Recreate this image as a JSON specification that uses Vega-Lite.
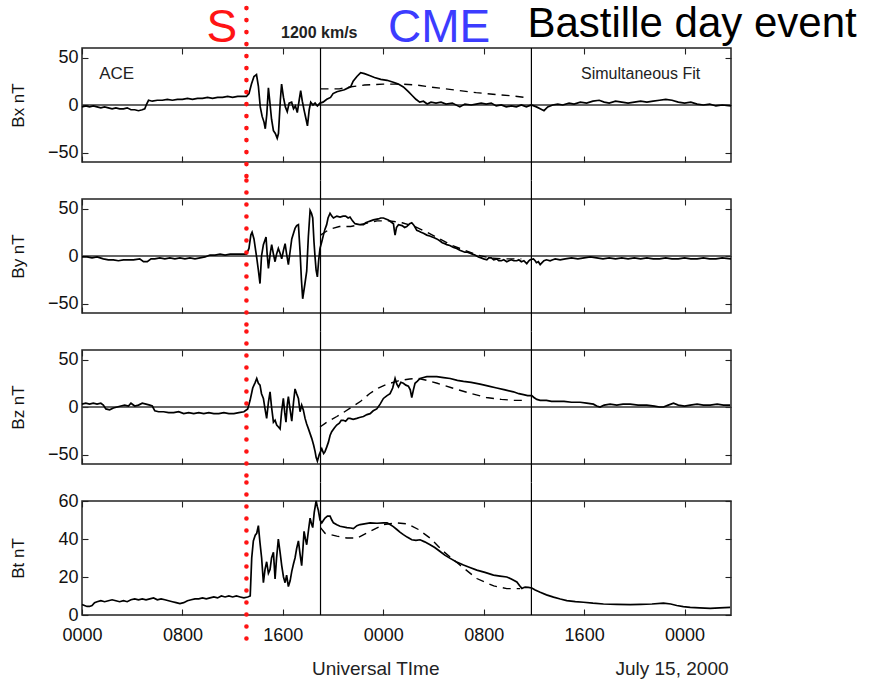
{
"$schema": "https://vega.github.io/schema/vega-lite/v6.json",
"padding": {"left": 8, "top": 1, "right": 5, "bottom": 5},
"background": "white",
"bounds": "flush",
"spacing": 37,
"config": {
 "view": {"stroke": "#222", "strokeWidth": 1.5},
 "font": "Liberation Sans",
 "text": {"font": "Liberation Sans"},
 "axis": {"grid": false, "domain": false, "tickColor": "#222", "tickWidth": 1.1, "tickSize": 6, "offset": -6, "labelFont": "Liberation Sans", "labelFontSize": 18, "labelColor": "#111", "labelPadding": 4, "labelFlush": false, "labelOverlap": false, "titleFont": "Liberation Sans", "titleFontSize": 17, "titleFontWeight": "normal", "titleColor": "#111", "titleX": -61},
 "axisBottom": {"labelPadding": 11}
},
"datasets": {
 "bx": [{"t":0,"v":-2},{"t":0.3,"v":-1},{"t":0.6,"v":-2},{"t":0.9,"v":-1},{"t":1.2,"v":-2},{"t":1.5,"v":-3},{"t":1.8,"v":-2},{"t":2.1,"v":-3},{"t":2.4,"v":-4},{"t":2.7,"v":-3},{"t":3.0,"v":-4},{"t":3.3,"v":-4},{"t":3.6,"v":-3},{"t":3.9,"v":-5},{"t":4.2,"v":-5},{"t":4.5,"v":-6},{"t":4.8,"v":-5},{"t":5.0,"v":-4},{"t":5.15,"v":1},{"t":5.3,"v":5},{"t":5.6,"v":4},{"t":6.0,"v":5},{"t":6.4,"v":5},{"t":6.8,"v":6},{"t":7.2,"v":5},{"t":7.6,"v":6},{"t":8.0,"v":6},{"t":8.4,"v":7},{"t":8.8,"v":6},{"t":9.2,"v":7},{"t":9.6,"v":7},{"t":10.0,"v":8},{"t":10.4,"v":7},{"t":10.8,"v":8},{"t":11.2,"v":8},{"t":11.6,"v":9},{"t":12.0,"v":8},{"t":12.4,"v":9},{"t":12.8,"v":9},{"t":13.1,"v":9},{"t":13.3,"v":12},{"t":13.5,"v":22},{"t":13.7,"v":30},{"t":13.9,"v":32},{"t":14.05,"v":20},{"t":14.2,"v":-2},{"t":14.35,"v":-12},{"t":14.5,"v":-18},{"t":14.6,"v":-25},{"t":14.72,"v":-10},{"t":14.85,"v":18},{"t":14.95,"v":5},{"t":15.1,"v":-15},{"t":15.25,"v":-27},{"t":15.4,"v":-30},{"t":15.55,"v":-35},{"t":15.65,"v":-30},{"t":15.8,"v":5},{"t":15.9,"v":22},{"t":16.05,"v":8},{"t":16.2,"v":-2},{"t":16.35,"v":-7},{"t":16.5,"v":2},{"t":16.7,"v":3},{"t":16.85,"v":-4},{"t":17.0,"v":-1},{"t":17.15,"v":-8},{"t":17.3,"v":5},{"t":17.42,"v":15},{"t":17.55,"v":4},{"t":17.7,"v":-6},{"t":17.85,"v":-15},{"t":17.96,"v":-22},{"t":18.1,"v":-5},{"t":18.22,"v":3},{"t":18.4,"v":0},{"t":18.57,"v":2},{"t":18.75,"v":-1},{"t":18.96,"v":2},{"t":19.2,"v":3},{"t":19.5,"v":6},{"t":19.8,"v":8},{"t":20.0,"v":12},{"t":20.3,"v":14},{"t":20.6,"v":15},{"t":20.9,"v":16},{"t":21.2,"v":18},{"t":21.4,"v":19},{"t":21.6,"v":25},{"t":21.9,"v":30},{"t":22.2,"v":34},{"t":22.5,"v":33},{"t":22.9,"v":31},{"t":23.3,"v":29},{"t":23.8,"v":27},{"t":24.3,"v":26},{"t":24.8,"v":24},{"t":25.2,"v":22},{"t":25.6,"v":19},{"t":26.0,"v":14},{"t":26.3,"v":10},{"t":26.6,"v":6},{"t":26.9,"v":3},{"t":27.2,"v":4},{"t":27.5,"v":1},{"t":27.8,"v":3},{"t":28.2,"v":2},{"t":28.6,"v":3},{"t":29.0,"v":1},{"t":29.5,"v":2},{"t":30.1,"v":-2},{"t":30.5,"v":1},{"t":31.0,"v":0},{"t":31.4,"v":1},{"t":31.8,"v":2},{"t":32.2,"v":1},{"t":32.6,"v":2},{"t":33.0,"v":-1},{"t":33.4,"v":0},{"t":33.8,"v":-2},{"t":34.2,"v":-1},{"t":34.6,"v":-2},{"t":35.0,"v":0},{"t":35.4,"v":-2},{"t":35.8,"v":0},{"t":36.2,"v":-2},{"t":36.5,"v":-4},{"t":36.8,"v":-6},{"t":37.1,"v":-2},{"t":37.5,"v":0},{"t":37.9,"v":1},{"t":38.3,"v":0},{"t":38.8,"v":2},{"t":39.2,"v":1},{"t":39.7,"v":3},{"t":40.2,"v":2},{"t":40.7,"v":4},{"t":41.2,"v":5},{"t":41.6,"v":3},{"t":42.0,"v":2},{"t":42.5,"v":4},{"t":43.0,"v":3},{"t":43.5,"v":2},{"t":44.0,"v":3},{"t":44.5,"v":4},{"t":45.0,"v":3},{"t":45.5,"v":4},{"t":46.0,"v":5},{"t":46.5,"v":6},{"t":47.0,"v":5},{"t":47.5,"v":3},{"t":48.0,"v":2},{"t":48.5,"v":3},{"t":49.0,"v":1},{"t":49.5,"v":0},{"t":50.0,"v":1},{"t":50.5,"v":-1},{"t":51.0,"v":0},{"t":51.7,"v":-1}],
 "bxf": [{"t":19.0,"v":17},{"t":19.9,"v":17},{"t":20.5,"v":17},{"t":21.3,"v":19},{"t":22.5,"v":21},{"t":24,"v":22},{"t":25.5,"v":22},{"t":26.7,"v":21},{"t":27.7,"v":19},{"t":29.3,"v":16.5},{"t":31.4,"v":13},{"t":33,"v":11},{"t":34.4,"v":9.5},{"t":35.3,"v":8}],
 "by": [{"t":0,"v":-1},{"t":0.4,"v":-1},{"t":0.8,"v":-2},{"t":1.2,"v":-1},{"t":1.7,"v":-3},{"t":2.1,"v":-4},{"t":2.5,"v":-4},{"t":2.9,"v":-5},{"t":3.3,"v":-4},{"t":3.7,"v":-4},{"t":4.1,"v":-4},{"t":4.6,"v":-3},{"t":4.9,"v":-6},{"t":5.2,"v":-6},{"t":5.5,"v":-3},{"t":5.8,"v":-3},{"t":6.2,"v":-2},{"t":6.6,"v":-3},{"t":7.0,"v":-2},{"t":7.4,"v":-3},{"t":7.8,"v":-2},{"t":8.2,"v":-3},{"t":8.6,"v":-2},{"t":9.0,"v":-3},{"t":9.4,"v":-2},{"t":9.8,"v":-1},{"t":10.2,"v":1},{"t":10.6,"v":1},{"t":11.0,"v":2},{"t":11.4,"v":1},{"t":11.8,"v":2},{"t":12.2,"v":2},{"t":12.6,"v":2},{"t":13.1,"v":2},{"t":13.3,"v":8},{"t":13.45,"v":22},{"t":13.55,"v":25},{"t":13.7,"v":18},{"t":13.92,"v":-2},{"t":14.05,"v":-15},{"t":14.18,"v":-29},{"t":14.3,"v":0},{"t":14.45,"v":12},{"t":14.66,"v":20},{"t":14.75,"v":2},{"t":14.85,"v":-13},{"t":15.0,"v":3},{"t":15.11,"v":12},{"t":15.25,"v":2},{"t":15.38,"v":-6},{"t":15.5,"v":2},{"t":15.64,"v":8},{"t":15.78,"v":3},{"t":15.91,"v":-3},{"t":16.05,"v":6},{"t":16.18,"v":13},{"t":16.3,"v":2},{"t":16.44,"v":-9},{"t":16.58,"v":5},{"t":16.71,"v":18},{"t":16.85,"v":24},{"t":16.97,"v":29},{"t":17.1,"v":32},{"t":17.24,"v":33},{"t":17.37,"v":5},{"t":17.48,"v":-25},{"t":17.58,"v":-45},{"t":17.75,"v":-30},{"t":17.9,"v":-16},{"t":18.03,"v":20},{"t":18.17,"v":48},{"t":18.28,"v":45},{"t":18.38,"v":40},{"t":18.48,"v":15},{"t":18.57,"v":-2},{"t":18.65,"v":-15},{"t":18.75,"v":-22},{"t":18.85,"v":-5},{"t":18.96,"v":8},{"t":19.1,"v":15},{"t":19.23,"v":22},{"t":19.35,"v":28},{"t":19.49,"v":33},{"t":19.6,"v":40},{"t":19.76,"v":45},{"t":19.9,"v":42},{"t":20.03,"v":40},{"t":20.3,"v":42},{"t":20.56,"v":41},{"t":20.8,"v":42},{"t":21.0,"v":42},{"t":21.2,"v":40},{"t":21.35,"v":41},{"t":21.55,"v":37},{"t":21.75,"v":34},{"t":22.1,"v":33},{"t":22.42,"v":33},{"t":22.6,"v":35},{"t":22.8,"v":36},{"t":23.0,"v":37},{"t":23.21,"v":38},{"t":23.6,"v":39},{"t":23.8,"v":40},{"t":24.01,"v":40},{"t":24.2,"v":39},{"t":24.4,"v":38},{"t":24.6,"v":36},{"t":24.81,"v":34},{"t":24.88,"v":27},{"t":24.94,"v":22},{"t":25.05,"v":30},{"t":25.21,"v":33},{"t":25.5,"v":32},{"t":25.7,"v":30},{"t":25.87,"v":31},{"t":26.1,"v":34},{"t":26.27,"v":35},{"t":26.4,"v":33},{"t":26.5,"v":31},{"t":26.67,"v":27},{"t":26.85,"v":26},{"t":27.0,"v":25},{"t":27.2,"v":24},{"t":27.47,"v":22},{"t":27.7,"v":21},{"t":27.9,"v":20},{"t":28.1,"v":19},{"t":28.26,"v":18},{"t":28.5,"v":16},{"t":28.7,"v":14},{"t":28.9,"v":13},{"t":29.06,"v":12},{"t":29.3,"v":11},{"t":29.6,"v":9},{"t":29.85,"v":8},{"t":30.1,"v":6},{"t":30.3,"v":5},{"t":30.5,"v":4},{"t":30.7,"v":4},{"t":30.92,"v":3},{"t":31.1,"v":2},{"t":31.3,"v":1},{"t":31.58,"v":-1},{"t":31.8,"v":-2},{"t":32.0,"v":-3},{"t":32.25,"v":-4},{"t":32.4,"v":-2},{"t":32.6,"v":-2},{"t":32.8,"v":-4},{"t":33.04,"v":-3},{"t":33.2,"v":-5},{"t":33.4,"v":-5},{"t":33.6,"v":-4},{"t":33.84,"v":-6},{"t":34.0,"v":-5},{"t":34.2,"v":-4},{"t":34.4,"v":-5},{"t":34.64,"v":-5},{"t":34.8,"v":-4},{"t":35.0,"v":-6},{"t":35.2,"v":-5},{"t":35.43,"v":-8},{"t":35.6,"v":-5},{"t":35.7,"v":-4},{"t":35.96,"v":-3},{"t":36.1,"v":-5},{"t":36.2,"v":-7},{"t":36.35,"v":-6},{"t":36.5,"v":-9},{"t":36.65,"v":-7},{"t":36.8,"v":-5},{"t":37.0,"v":-4},{"t":37.29,"v":-5},{"t":37.5,"v":-4},{"t":37.7,"v":-3},{"t":38.09,"v":-4},{"t":38.5,"v":-3},{"t":39.0,"v":-2},{"t":39.5,"v":-3},{"t":40.0,"v":-2},{"t":40.5,"v":-1},{"t":41.0,"v":-2},{"t":41.5,"v":-3},{"t":42.0,"v":-2},{"t":42.5,"v":-3},{"t":43.0,"v":-2},{"t":43.5,"v":-3},{"t":44.0,"v":-2},{"t":44.5,"v":-3},{"t":45.0,"v":-2},{"t":45.5,"v":-3},{"t":46.0,"v":-3},{"t":46.5,"v":-2},{"t":47.0,"v":-3},{"t":47.5,"v":-3},{"t":48.0,"v":-2},{"t":48.5,"v":-3},{"t":49.0,"v":-3},{"t":49.5,"v":-2},{"t":50.0,"v":-3},{"t":50.5,"v":-3},{"t":51.0,"v":-2},{"t":51.7,"v":-3}],
 "byf": [{"t":19.0,"v":22},{"t":19.7,"v":28},{"t":20.5,"v":31},{"t":21.4,"v":31},{"t":22.5,"v":34},{"t":23.5,"v":37},{"t":24.5,"v":37},{"t":25.5,"v":35},{"t":26.5,"v":31},{"t":27.5,"v":25},{"t":28.5,"v":18},{"t":29.5,"v":11},{"t":30.5,"v":6},{"t":31.5,"v":1},{"t":32.5,"v":-2},{"t":33.5,"v":-3},{"t":35.0,"v":-3}],
 "bz": [{"t":0,"v":3},{"t":0.3,"v":4},{"t":0.6,"v":3},{"t":0.9,"v":4},{"t":1.2,"v":3},{"t":1.5,"v":4},{"t":1.7,"v":2},{"t":1.9,"v":-2},{"t":2.2,"v":-3},{"t":2.5,"v":-1},{"t":2.8,"v":0},{"t":3.1,"v":1},{"t":3.4,"v":2},{"t":3.7,"v":1},{"t":3.9,"v":4},{"t":4.2,"v":1},{"t":4.5,"v":2},{"t":4.8,"v":4},{"t":5.1,"v":3},{"t":5.4,"v":2},{"t":5.6,"v":1},{"t":5.8,"v":-4},{"t":6.1,"v":-5},{"t":6.5,"v":-5},{"t":6.9,"v":-6},{"t":7.3,"v":-6},{"t":7.7,"v":-5},{"t":8.1,"v":-7},{"t":8.5,"v":-6},{"t":8.9,"v":-7},{"t":9.3,"v":-6},{"t":9.7,"v":-7},{"t":10.1,"v":-6},{"t":10.5,"v":-7},{"t":10.9,"v":-7},{"t":11.3,"v":-6},{"t":11.7,"v":-7},{"t":12.1,"v":-7},{"t":12.5,"v":-6},{"t":12.9,"v":-5},{"t":13.2,"v":-2},{"t":13.39,"v":7},{"t":13.6,"v":20},{"t":13.8,"v":26},{"t":13.92,"v":30},{"t":14.05,"v":25},{"t":14.18,"v":23},{"t":14.3,"v":14},{"t":14.45,"v":9},{"t":14.58,"v":-2},{"t":14.71,"v":-12},{"t":14.85,"v":5},{"t":14.98,"v":16},{"t":15.1,"v":0},{"t":15.25,"v":-16},{"t":15.38,"v":-14},{"t":15.51,"v":-19},{"t":15.65,"v":-21},{"t":15.78,"v":-23},{"t":15.9,"v":-5},{"t":16.04,"v":9},{"t":16.15,"v":-6},{"t":16.25,"v":-16},{"t":16.35,"v":2},{"t":16.44,"v":11},{"t":16.58,"v":-3},{"t":16.71,"v":-15},{"t":16.85,"v":5},{"t":16.97,"v":19},{"t":17.1,"v":14},{"t":17.24,"v":9},{"t":17.37,"v":-5},{"t":17.5,"v":2},{"t":17.63,"v":-3},{"t":17.77,"v":-12},{"t":17.9,"v":-18},{"t":18.04,"v":-23},{"t":18.17,"v":-28},{"t":18.3,"v":-33},{"t":18.45,"v":-40},{"t":18.57,"v":-47},{"t":18.65,"v":-53},{"t":18.75,"v":-57},{"t":18.9,"v":-50},{"t":19.1,"v":-44},{"t":19.25,"v":-49},{"t":19.36,"v":-47},{"t":19.5,"v":-42},{"t":19.63,"v":-37},{"t":19.76,"v":-30},{"t":19.89,"v":-26},{"t":20.1,"v":-22},{"t":20.29,"v":-19},{"t":20.5,"v":-17},{"t":20.65,"v":-14},{"t":20.82,"v":-14},{"t":21.0,"v":-15},{"t":21.2,"v":-12},{"t":21.35,"v":-12},{"t":21.6,"v":-13},{"t":21.89,"v":-12},{"t":22.1,"v":-11},{"t":22.42,"v":-10},{"t":22.7,"v":-8},{"t":22.95,"v":-7},{"t":23.2,"v":-4},{"t":23.48,"v":-2},{"t":23.75,"v":3},{"t":24.01,"v":9},{"t":24.3,"v":12},{"t":24.54,"v":14},{"t":24.75,"v":20},{"t":24.94,"v":30},{"t":25.08,"v":24},{"t":25.21,"v":21},{"t":25.4,"v":26},{"t":25.6,"v":25},{"t":25.8,"v":23},{"t":26.0,"v":22},{"t":26.15,"v":18},{"t":26.27,"v":10},{"t":26.4,"v":18},{"t":26.53,"v":25},{"t":26.7,"v":27},{"t":26.93,"v":30},{"t":27.2,"v":31},{"t":27.47,"v":32},{"t":27.9,"v":32},{"t":28.26,"v":32},{"t":28.8,"v":31},{"t":29.33,"v":30},{"t":29.9,"v":28},{"t":30.39,"v":27},{"t":31.0,"v":26},{"t":31.71,"v":24},{"t":32.4,"v":22},{"t":33.04,"v":20},{"t":33.7,"v":18},{"t":34.37,"v":16},{"t":34.8,"v":14},{"t":35.17,"v":13},{"t":35.5,"v":12},{"t":35.83,"v":12},{"t":36.0,"v":10},{"t":36.23,"v":8},{"t":36.5,"v":7},{"t":37.0,"v":7},{"t":37.4,"v":6},{"t":37.82,"v":6},{"t":38.4,"v":6},{"t":39.0,"v":5},{"t":39.68,"v":5},{"t":40.2,"v":4},{"t":40.74,"v":3},{"t":41.0,"v":1},{"t":41.27,"v":0},{"t":41.6,"v":2},{"t":42.07,"v":3},{"t":42.6,"v":2},{"t":43.1,"v":3},{"t":43.67,"v":3},{"t":44.3,"v":2},{"t":44.99,"v":2},{"t":45.6,"v":1},{"t":46.0,"v":0},{"t":46.32,"v":0},{"t":46.7,"v":2},{"t":47.12,"v":4},{"t":47.5,"v":2},{"t":48.0,"v":1},{"t":48.45,"v":2},{"t":49.0,"v":3},{"t":49.5,"v":2},{"t":50.04,"v":2},{"t":50.6,"v":3},{"t":51.1,"v":2},{"t":51.63,"v":2}],
 "bzf": [{"t":18.96,"v":-21},{"t":19.5,"v":-16},{"t":20.3,"v":-10},{"t":20.8,"v":-6},{"t":21.5,"v":0},{"t":22.2,"v":6},{"t":22.9,"v":14},{"t":23.6,"v":20},{"t":24.3,"v":24},{"t":25.2,"v":27.5},{"t":26.1,"v":29.5},{"t":26.8,"v":30},{"t":27.5,"v":28},{"t":28.3,"v":25},{"t":29.5,"v":20},{"t":30.9,"v":14.5},{"t":32.2,"v":10},{"t":33.4,"v":8},{"t":34.4,"v":7},{"t":35.2,"v":7}],
 "bt": [{"t":0,"v":5.5},{"t":0.2,"v":5},{"t":0.4,"v":4.5},{"t":0.6,"v":4.5},{"t":0.8,"v":5},{"t":1.0,"v":6.5},{"t":1.2,"v":7},{"t":1.5,"v":7.5},{"t":1.8,"v":7},{"t":2.1,"v":7.5},{"t":2.4,"v":8},{"t":2.7,"v":7.5},{"t":3.0,"v":7},{"t":3.3,"v":7.5},{"t":3.6,"v":7},{"t":3.9,"v":8},{"t":4.2,"v":8.5},{"t":4.5,"v":8},{"t":4.8,"v":8.5},{"t":5.1,"v":8},{"t":5.4,"v":8.5},{"t":5.7,"v":9},{"t":6.0,"v":8},{"t":6.3,"v":8.5},{"t":6.6,"v":8},{"t":6.9,"v":7.5},{"t":7.2,"v":7},{"t":7.5,"v":6.5},{"t":7.8,"v":6},{"t":8.1,"v":6.5},{"t":8.4,"v":7.5},{"t":8.7,"v":8},{"t":9.0,"v":8.5},{"t":9.3,"v":8.5},{"t":9.6,"v":9},{"t":9.9,"v":8.5},{"t":10.2,"v":9},{"t":10.5,"v":9.5},{"t":10.8,"v":9},{"t":11.1,"v":10},{"t":11.4,"v":9.5},{"t":11.7,"v":10},{"t":12.0,"v":9.5},{"t":12.3,"v":10},{"t":12.6,"v":9.5},{"t":12.9,"v":9},{"t":13.2,"v":9.5},{"t":13.4,"v":10},{"t":13.52,"v":30},{"t":13.65,"v":39},{"t":13.8,"v":42},{"t":13.92,"v":43},{"t":14.05,"v":47},{"t":14.18,"v":38},{"t":14.31,"v":30},{"t":14.45,"v":17},{"t":14.58,"v":24},{"t":14.71,"v":28},{"t":14.85,"v":22},{"t":14.98,"v":24},{"t":15.1,"v":30},{"t":15.25,"v":33},{"t":15.38,"v":19},{"t":15.5,"v":30},{"t":15.64,"v":40},{"t":15.78,"v":33},{"t":15.91,"v":26},{"t":16.05,"v":20},{"t":16.18,"v":17},{"t":16.3,"v":21},{"t":16.44,"v":15},{"t":16.58,"v":18},{"t":16.71,"v":23},{"t":16.85,"v":27},{"t":16.97,"v":30},{"t":17.1,"v":35},{"t":17.24,"v":39},{"t":17.37,"v":32},{"t":17.5,"v":26},{"t":17.6,"v":35},{"t":17.69,"v":44},{"t":17.8,"v":40},{"t":17.9,"v":37},{"t":18.05,"v":45},{"t":18.17,"v":51},{"t":18.28,"v":48},{"t":18.38,"v":46},{"t":18.5,"v":54},{"t":18.65,"v":60},{"t":18.75,"v":57},{"t":18.83,"v":55},{"t":18.96,"v":50},{"t":19.1,"v":48.5},{"t":19.25,"v":50},{"t":19.36,"v":51},{"t":19.55,"v":52},{"t":19.76,"v":52},{"t":19.9,"v":50},{"t":20.03,"v":48.5},{"t":20.3,"v":47.5},{"t":20.56,"v":46.7},{"t":21.1,"v":46},{"t":21.4,"v":45.8},{"t":21.62,"v":45.5},{"t":21.9,"v":47},{"t":22.15,"v":47.6},{"t":22.5,"v":48},{"t":22.95,"v":48.5},{"t":23.5,"v":48.3},{"t":24.01,"v":48.5},{"t":24.3,"v":48.5},{"t":24.54,"v":47.6},{"t":24.8,"v":46.5},{"t":25.08,"v":45},{"t":25.35,"v":43.5},{"t":25.6,"v":42.3},{"t":25.9,"v":41},{"t":26.27,"v":39.6},{"t":26.6,"v":39.3},{"t":26.93,"v":39.6},{"t":27.3,"v":38.5},{"t":27.73,"v":37},{"t":28.1,"v":35.5},{"t":28.53,"v":33.4},{"t":28.9,"v":31.5},{"t":29.33,"v":29.8},{"t":29.8,"v":28},{"t":30.39,"v":26.3},{"t":30.9,"v":25},{"t":31.45,"v":23.6},{"t":32.1,"v":22.4},{"t":32.78,"v":21},{"t":33.3,"v":20.5},{"t":33.84,"v":20},{"t":34.2,"v":19},{"t":34.64,"v":17.4},{"t":34.85,"v":15.5},{"t":35.04,"v":14},{"t":35.2,"v":14.5},{"t":35.3,"v":14.7},{"t":35.55,"v":14.5},{"t":35.83,"v":14.2},{"t":36.1,"v":13.2},{"t":36.5,"v":12},{"t":37.0,"v":10.6},{"t":37.56,"v":9.4},{"t":38.1,"v":8.4},{"t":38.62,"v":7.6},{"t":39.3,"v":7},{"t":39.95,"v":6.7},{"t":40.7,"v":6.2},{"t":41.54,"v":5.8},{"t":42.6,"v":5.6},{"t":43.67,"v":5.5},{"t":44.5,"v":5.6},{"t":45.4,"v":5.8},{"t":46.32,"v":6.2},{"t":46.9,"v":5.8},{"t":47.38,"v":5},{"t":47.9,"v":4.4},{"t":48.45,"v":4},{"t":49.2,"v":3.8},{"t":50.04,"v":3.5},{"t":50.8,"v":3.8},{"t":51.63,"v":4}],
 "btf": [{"t":19.0,"v":46},{"t":19.36,"v":43},{"t":20.3,"v":41.5},{"t":21.1,"v":40.5},{"t":21.9,"v":40.5},{"t":22.95,"v":44},{"t":24.01,"v":47.6},{"t":25.08,"v":48.5},{"t":25.9,"v":48},{"t":26.8,"v":45},{"t":27.73,"v":40.5},{"t":28.8,"v":33.4},{"t":30.1,"v":26.3},{"t":31.45,"v":19.2},{"t":32.8,"v":15.3},{"t":33.84,"v":13.9},{"t":34.9,"v":13.9}],
 "events": [{"t":19.0},{"t":35.8}]
},
"vconcat": [
 {
  "width": 649, "height": 114,
  "resolve": {"axis": {"x": "independent", "y": "independent"}},
  "layer": [
   {"data": {"values": [{}]}, "mark": {"type": "rule", "color": "#333", "strokeWidth": 1.7}, "encoding": {"y": {"datum": 0, "type": "quantitative", "axis": null}}},
   {"data": {"name": "events"}, "mark": {"type": "rule", "color": "black", "strokeWidth": 1.2}, "encoding": {"x": {"field": "t", "type": "quantitative", "axis": null}, "y": {"datum": 60, "type": "quantitative", "axis": null}, "y2": {"datum": -79.5}}},
   {"data": {"name": "bx"}, "mark": {"type": "line", "color": "black", "strokeWidth": 1.7}, "encoding": {
     "x": {"field": "t", "type": "quantitative", "scale": {"domain": [0, 51.7], "nice": false, "zero": false}, "axis": {"orient": "bottom", "values": [0,8,16,24,32,40,48], "labels": false, "title": null}},
     "y": {"field": "v", "type": "quantitative", "scale": {"domain": [-60, 60], "nice": false, "zero": false}, "axis": {"orient": "left", "values": [-50,0,50], "title": "Bx nT"}}}},
   {"data": {"name": "bxf"}, "mark": {"type": "line", "color": "black", "strokeWidth": 1.4, "strokeDash": [8, 6]}, "encoding": {
     "x": {"field": "t", "type": "quantitative", "axis": {"orient": "top", "values": [0,8,16,24,32,40,48], "labels": false, "title": null}},
     "y": {"field": "v", "type": "quantitative", "axis": {"orient": "right", "values": [-50,0,50], "labels": false, "title": null}}}},
   {"data": {"values": [{}]}, "mark": {"type": "rule", "color": "#ff1414", "strokeWidth": 4.6, "strokeDash": [0, 12], "strokeCap": "round"}, "encoding": {"x": {"datum": 13.1, "type": "quantitative", "axis": null}, "y": {"datum": 102, "type": "quantitative", "axis": null}, "y2": {"datum": -79.5}}},
   {"data": {"values": [{}]}, "mark": {"type": "text", "text": "S", "color": "#ff1414", "fontSize": 46, "align": "center", "baseline": "alphabetic"}, "encoding": {"x": {"datum": 11.15, "type": "quantitative", "axis": null}, "y": {"datum": 66.8, "type": "quantitative", "axis": null}}},
   {"data": {"values": [{}]}, "mark": {"type": "text", "text": "1200 km/s", "color": "#222", "fontSize": 16, "fontWeight": "bold", "align": "center", "baseline": "alphabetic"}, "encoding": {"x": {"datum": 18.9, "type": "quantitative", "axis": null}, "y": {"datum": 71, "type": "quantitative", "axis": null}}},
   {"data": {"values": [{}]}, "mark": {"type": "text", "text": "CME", "color": "#3c3cff", "fontSize": 46, "align": "center", "baseline": "alphabetic"}, "encoding": {"x": {"datum": 28.45, "type": "quantitative", "axis": null}, "y": {"datum": 66.8, "type": "quantitative", "axis": null}}},
   {"data": {"values": [{}]}, "mark": {"type": "text", "text": "Bastille day event", "color": "black", "fontSize": 42, "align": "center", "baseline": "alphabetic"}, "encoding": {"x": {"datum": 48.6, "type": "quantitative", "axis": null}, "y": {"datum": 72, "type": "quantitative", "axis": null}}},
   {"data": {"values": [{}]}, "mark": {"type": "text", "text": "ACE", "color": "#222", "fontSize": 17, "align": "center", "baseline": "middle"}, "encoding": {"x": {"datum": 2.76, "type": "quantitative", "axis": null}, "y": {"datum": 32.5, "type": "quantitative", "axis": null}}},
   {"data": {"values": [{}]}, "mark": {"type": "text", "text": "Simultaneous Fit", "color": "#222", "fontSize": 16, "align": "center", "baseline": "middle"}, "encoding": {"x": {"datum": 44.5, "type": "quantitative", "axis": null}, "y": {"datum": 32.2, "type": "quantitative", "axis": null}}}
  ]
 },
 {
  "width": 649, "height": 114,
  "resolve": {"axis": {"x": "independent", "y": "independent"}},
  "layer": [
   {"data": {"values": [{}]}, "mark": {"type": "rule", "color": "#333", "strokeWidth": 1.7}, "encoding": {"y": {"datum": 0, "type": "quantitative", "axis": null}}},
   {"data": {"name": "events"}, "mark": {"type": "rule", "color": "black", "strokeWidth": 1.2}, "encoding": {"x": {"field": "t", "type": "quantitative", "axis": null}, "y": {"datum": 79.5, "type": "quantitative", "axis": null}, "y2": {"datum": -79.5}}},
   {"data": {"name": "by"}, "mark": {"type": "line", "color": "black", "strokeWidth": 1.7}, "encoding": {
     "x": {"field": "t", "type": "quantitative", "scale": {"domain": [0, 51.7], "nice": false, "zero": false}, "axis": {"orient": "bottom", "values": [0,8,16,24,32,40,48], "labels": false, "title": null}},
     "y": {"field": "v", "type": "quantitative", "scale": {"domain": [-60, 60], "nice": false, "zero": false}, "axis": {"orient": "left", "values": [-50,0,50], "title": "By nT"}}}},
   {"data": {"name": "byf"}, "mark": {"type": "line", "color": "black", "strokeWidth": 1.4, "strokeDash": [8, 6]}, "encoding": {
     "x": {"field": "t", "type": "quantitative", "axis": {"orient": "top", "values": [0,8,16,24,32,40,48], "labels": false, "title": null}},
     "y": {"field": "v", "type": "quantitative", "axis": {"orient": "right", "values": [-50,0,50], "labels": false, "title": null}}}},
   {"data": {"values": [{}]}, "mark": {"type": "rule", "color": "#ff1414", "strokeWidth": 4.6, "strokeDash": [0, 12], "strokeCap": "round"}, "encoding": {"x": {"datum": 13.1, "type": "quantitative", "axis": null}, "y": {"datum": 79.5, "type": "quantitative", "axis": null}, "y2": {"datum": -79.5}}}
  ]
 },
 {
  "width": 649, "height": 114,
  "resolve": {"axis": {"x": "independent", "y": "independent"}},
  "layer": [
   {"data": {"values": [{}]}, "mark": {"type": "rule", "color": "#333", "strokeWidth": 1.7}, "encoding": {"y": {"datum": 0, "type": "quantitative", "axis": null}}},
   {"data": {"name": "events"}, "mark": {"type": "rule", "color": "black", "strokeWidth": 1.2}, "encoding": {"x": {"field": "t", "type": "quantitative", "axis": null}, "y": {"datum": 79.5, "type": "quantitative", "axis": null}, "y2": {"datum": -79.5}}},
   {"data": {"name": "bz"}, "mark": {"type": "line", "color": "black", "strokeWidth": 1.7}, "encoding": {
     "x": {"field": "t", "type": "quantitative", "scale": {"domain": [0, 51.7], "nice": false, "zero": false}, "axis": {"orient": "bottom", "values": [0,8,16,24,32,40,48], "labels": false, "title": null}},
     "y": {"field": "v", "type": "quantitative", "scale": {"domain": [-60, 60], "nice": false, "zero": false}, "axis": {"orient": "left", "values": [-50,0,50], "title": "Bz nT"}}}},
   {"data": {"name": "bzf"}, "mark": {"type": "line", "color": "black", "strokeWidth": 1.4, "strokeDash": [8, 6]}, "encoding": {
     "x": {"field": "t", "type": "quantitative", "axis": {"orient": "top", "values": [0,8,16,24,32,40,48], "labels": false, "title": null}},
     "y": {"field": "v", "type": "quantitative", "axis": {"orient": "right", "values": [-50,0,50], "labels": false, "title": null}}}},
   {"data": {"values": [{}]}, "mark": {"type": "rule", "color": "#ff1414", "strokeWidth": 4.6, "strokeDash": [0, 12], "strokeCap": "round"}, "encoding": {"x": {"datum": 13.1, "type": "quantitative", "axis": null}, "y": {"datum": 79.5, "type": "quantitative", "axis": null}, "y2": {"datum": -79.5}}}
  ]
 },
 {
  "width": 649, "height": 114,
  "resolve": {"axis": {"x": "independent", "y": "independent"}},
  "layer": [
   {"data": {"name": "events"}, "mark": {"type": "rule", "color": "black", "strokeWidth": 1.2}, "encoding": {"x": {"field": "t", "type": "quantitative", "axis": null}, "y": {"datum": 69.7, "type": "quantitative", "axis": null}, "y2": {"datum": 0}}},
   {"data": {"name": "bt"}, "mark": {"type": "line", "color": "black", "strokeWidth": 1.7}, "encoding": {
     "x": {"field": "t", "type": "quantitative", "scale": {"domain": [0, 51.7], "nice": false, "zero": false}, "axis": {"orient": "bottom", "values": [0,8,16,24,32,40,48], "labelExpr": "datum.value % 24 == 0 ? '0000' : (datum.value % 24 == 8 ? '0800' : '1600')", "title": null}},
     "y": {"field": "v", "type": "quantitative", "scale": {"domain": [0, 60], "nice": false, "zero": false}, "axis": {"orient": "left", "values": [0,20,40,60], "title": "Bt nT"}}}},
   {"data": {"name": "btf"}, "mark": {"type": "line", "color": "black", "strokeWidth": 1.4, "strokeDash": [8, 6]}, "encoding": {
     "x": {"field": "t", "type": "quantitative", "axis": {"orient": "top", "values": [0,8,16,24,32,40,48], "labels": false, "title": null}},
     "y": {"field": "v", "type": "quantitative", "axis": {"orient": "right", "values": [0,20,40,60], "labels": false, "title": null}}}},
   {"data": {"values": [{}]}, "mark": {"type": "rule", "color": "#ff1414", "strokeWidth": 4.6, "strokeDash": [0, 12], "strokeCap": "round"}, "encoding": {"x": {"datum": 13.1, "type": "quantitative", "axis": null}, "y": {"datum": 69.7, "type": "quantitative", "axis": null}, "y2": {"datum": -15.5}}},
   {"data": {"values": [{}]}, "mark": {"type": "text", "text": "Universal TIme", "color": "#222", "fontSize": 19, "align": "center", "baseline": "alphabetic"}, "encoding": {"x": {"datum": 23.4, "type": "quantitative", "axis": null}, "y": {"datum": -31.8, "type": "quantitative", "axis": null}}},
   {"data": {"values": [{}]}, "mark": {"type": "text", "text": "July 15, 2000", "color": "#222", "fontSize": 19, "align": "center", "baseline": "alphabetic"}, "encoding": {"x": {"datum": 47.0, "type": "quantitative", "axis": null}, "y": {"datum": -31.8, "type": "quantitative", "axis": null}}}
  ]
 }
]
}
